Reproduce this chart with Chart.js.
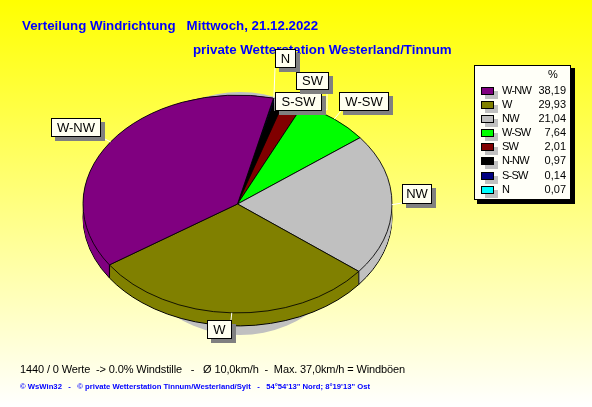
<!DOCTYPE html>
<html><head><meta charset="utf-8">
<style>html,body{margin:0;padding:0;background:#fff;overflow:hidden}canvas{display:block}</style>
<script src="https://cdn.jsdelivr.net/npm/chart.js@4"></script>
</head><body><canvas id="c" width="592" height="407"></canvas>
<script>
const categories = ["W-NW","W","NW","W-SW","SW","N-NW","S-SW","N"];
const values = [38.19,29.93,21.04,7.64,2.01,0.97,0.14,0.07];
const valueLabels = ["38,19","29,93","21,04","7,64","2,01","0,97","0,14","0,07"];
const colors = ["#800080","#808000","#C0C0C0","#00FF00","#800000","#000000","#000080","#00FFFF"];
const title1 = "Verteilung Windrichtung   Mittwoch, 21.12.2022";
const title2 = "private Wetterstation Westerland/Tinnum";
const footer1 = "1440 / 0 Werte  -> 0.0% Windstille   -   \u00D8 10,0km/h  -  Max. 37,0km/h = Windb\u00F6en";
const footer2 = "\u00A9 WsWin32   -   \u00A9 private Wetterstation Tinnum/Westerland/Sylt   -   54\u00B054'13\" Nord; 8\u00B019'13\" Ost";

const SQUASH = 0.705, DEPTH = 13;
const FONT = '"Liberation Sans", Arial, sans-serif';
// callout boxes: [x, y, w, h, leader end x, leader end y, optional elbow]
const callouts = {
  "N":    [275,49,21,19, 275,68],
  "SW":   [296,72,33,18, 327,90, [327,110]],
  "S-SW": [275,92,47,19, 275,111],
  "W-SW": [339,92,50,19, 341,111],
  "NW":   [402,184,30,20, 402,203],
  "W":    [207,320,25,19, 231,320],
  "W-NW": [51,118,50,19, 101,137]
};

function squash(ctx, cx, cy, dy){
  ctx.translate(cx, cy + dy);
  ctx.scale(1, SQUASH);
  ctx.translate(-cx, -cy);
}
const pie3d = {
  id:"pie3d",
  beforeDraw(chart){
    const {ctx,width,height} = chart;
    const g = ctx.createLinearGradient(0,0,0,height);
    g.addColorStop(0,"#FFFF00"); g.addColorStop(1,"#FFFFFF");
    ctx.fillStyle = g; ctx.fillRect(0,0,width,height);
  },
  beforeDatasetsDraw(chart){
    const {ctx} = chart;
    const arcs = chart.getDatasetMeta(0).data;
    const {x:cx,y:cy,outerRadius:R} = arcs[0];
    // drop shadow behind the pie
    ctx.save();
    ctx.fillStyle = "#C0C0C0";
    ctx.beginPath();
    ctx.arc(cx+2.5, cy+9.5, R*0.787, 0, Math.PI*2);
    ctx.fill();
    ctx.restore();
    // extruded side
    for(let d=DEPTH; d>=0; d--){
      arcs.forEach((a,i)=>{
        ctx.save();
        squash(ctx,cx,cy,d);
        ctx.beginPath();
        ctx.moveTo(cx,cy);
        ctx.arc(cx,cy,R,a.startAngle,a.endAngle);
        ctx.closePath();
        ctx.fillStyle = a.options.backgroundColor;
        ctx.fill();
        if(d===DEPTH){
          ctx.beginPath();
          ctx.arc(cx,cy,R,a.startAngle,a.endAngle);
          ctx.restore();
          ctx.strokeStyle="#000"; ctx.lineWidth=1; ctx.stroke();
        } else ctx.restore();
      });
    }
    // vertical side edges
    ctx.strokeStyle="#000"; ctx.lineWidth=1;
    arcs.forEach(a=>{
      if(Math.sin(a.startAngle)>0){
        const px=cx+R*Math.cos(a.startAngle), py=cy+R*SQUASH*Math.sin(a.startAngle);
        ctx.beginPath(); ctx.moveTo(px,py); ctx.lineTo(px,py+DEPTH); ctx.stroke();
      }
    });
  },
  beforeDatasetDraw(chart){
    const a = chart.getDatasetMeta(0).data[0];
    chart.ctx.save();
    squash(chart.ctx,a.x,a.y,0);
  },
  afterDatasetDraw(chart){ chart.ctx.restore(); },
  afterDatasetsDraw(chart){
    const {ctx} = chart;
    const meta = chart.getDatasetMeta(0);
    const arcs = meta.data;
    const {x:cx,y:cy,outerRadius:R} = arcs[0];
    ctx.textBaseline="middle"; ctx.textAlign="left";
    // titles
    ctx.fillStyle="#0000FF";
    ctx.font='bold 13.3px '+FONT;
    ctx.fillText(title1,22,26.5);
    ctx.fillText(title2,193,50.5);
    // footer
    ctx.fillStyle="#000"; ctx.font='11px '+FONT;
    ctx.letterSpacing="-0.13px";
    ctx.fillText(footer1,20,369.5);
    ctx.letterSpacing="0px";
    ctx.fillStyle="#0000FF"; ctx.font='bold 7.7px '+FONT;
    ctx.fillText(footer2,20,386.5);
    // leaders
    ctx.strokeStyle="#FFFFFF"; ctx.lineWidth=1;
    chart.data.labels.forEach((lab,i)=>{
      const c=callouts[lab]; if(!c) return;
      const a=arcs[i], m=(a.startAngle+a.endAngle)/2;
      ctx.beginPath();
      ctx.moveTo(cx+R*Math.cos(m), cy+R*SQUASH*Math.sin(m));
      if(c[6]) ctx.lineTo(c[6][0],c[6][1]);
      ctx.lineTo(c[4],c[5]);
      ctx.stroke();
    });
    // callout boxes
    ctx.textAlign="center"; ctx.font='13px '+FONT;
    chart.data.labels.forEach(lab=>{
      const c=callouts[lab]; if(!c) return;
      const [x,y,w,h]=c;
      ctx.fillStyle="#808080"; ctx.fillRect(x+4,y+4,w,h);
      ctx.fillStyle="#FFFFF0"; ctx.fillRect(x,y,w,h);
      ctx.strokeStyle="#000"; ctx.lineWidth=1; ctx.strokeRect(x+.5,y+.5,w-1,h-1);
      ctx.fillStyle="#000"; ctx.fillText(lab,x+w/2,y+h/2+.5);
    });
    // legend
    ctx.fillStyle="#000"; ctx.fillRect(477,68,98,136);
    ctx.fillStyle="#FFFFF8"; ctx.fillRect(474,65,97,135);
    ctx.strokeStyle="#000"; ctx.strokeRect(474.5,65.5,96,134);
    ctx.font='11px '+FONT; ctx.fillStyle="#000";
    ctx.textAlign="center"; ctx.fillText("%",553,75);
    categories.forEach((n,i)=>{
      const yc=90.7+i*14.15, yTop=Math.round(yc-4);
      ctx.fillStyle="#C0C0C0"; ctx.fillRect(485,yTop+4,13,8);
      ctx.fillStyle=colors[i]; ctx.fillRect(481,yTop,13,8);
      ctx.strokeStyle="#000"; ctx.strokeRect(481.5,yTop+.5,12,7);
      ctx.fillStyle="#000"; ctx.textAlign="left";
      ctx.letterSpacing="-0.8px"; ctx.fillText(n,502,yc); ctx.letterSpacing="0px";
      ctx.textAlign="right"; ctx.fillText(valueLabels[i],566,yc);
    });
  }
};

new Chart(document.getElementById("c"),{
  type:"pie",
  data:{
    labels:[...categories].reverse(),
    datasets:[{
      data:[...values].reverse(),
      backgroundColor:[...colors].reverse(),
      borderColor:"#000",
      borderWidth:1
    }]
  },
  options:{
    responsive:false,
    animation:false,
    rotation:13.5,
    layout:{padding:{left:82.5,right:199.5,top:49,bottom:48}},
    plugins:{legend:{display:false},title:{display:false},tooltip:{enabled:false}}
  },
  plugins:[pie3d]
});
</script></body></html>
